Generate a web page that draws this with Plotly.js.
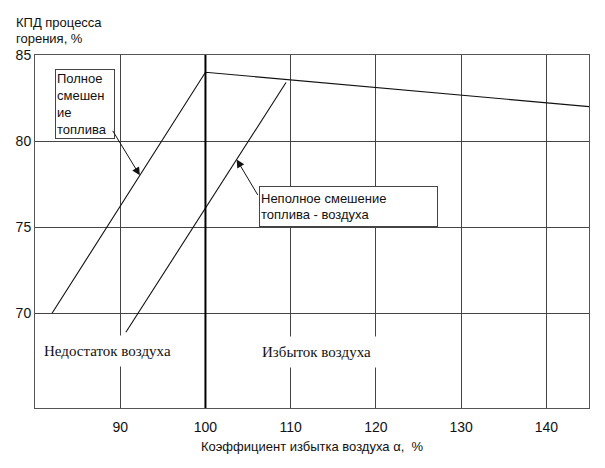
<!DOCTYPE html>
<html><head><meta charset="utf-8">
<script src="https://cdn.plot.ly/plotly-3.0.1.min.js"></script>
<style>html,body{margin:0;padding:0;background:#fff}#chart{width:605px;height:468px}</style>
</head><body><div id="chart"></div>
<script>
// ---- data ----
const fullMixX = [82, 100, 145];          // полное смешение топлива
const fullMixY = [70, 84.0, 82.0];
const partialMixX = [90.66, 109.45];      // неполное смешение топлива - воздуха
const partialMixY = [68.9, 83.4];
const boundaryX = [100];                  // граница недостаток / избыток воздуха
const xTickVals = [90, 100, 110, 120, 130, 140];
const xTickText = ['90', '100', '110', '120', '130', '140'];
const yTickVals = [70, 75, 80, 85];
const yTickText = ['70', '75', '80', '85'];
const yTitleLines = ['КПД процесса', 'горения, %'];
const xRange = [80, 145];
const yRange = [64.5, 85];

const SANS = '"Liberation Sans", Arial, sans-serif';
const SERIF = '"Liberation Serif", "Times New Roman", serif';

function interp(xs, ys, x) {
  for (let i = 0; i < xs.length - 1; i++) {
    if (x >= xs[i] && x <= xs[i + 1]) {
      const t = (x - xs[i]) / (xs[i + 1] - xs[i]);
      return ys[i] + t * (ys[i + 1] - ys[i]);
    }
  }
  return ys[ys.length - 1];
}

const arrow1X = 92.3, arrow2X = 103.66;

const traces = [
  {x: fullMixX, y: fullMixY, mode: 'lines', line: {color: '#111', width: 1.1}, hoverinfo: 'skip', showlegend: false},
  {x: partialMixX, y: partialMixY, mode: 'lines', line: {color: '#111', width: 1.1}, hoverinfo: 'skip', showlegend: false}
];

const layout = {
  width: 605, height: 468,
  margin: {l: 35, r: 16, t: 55, b: 60},
  paper_bgcolor: '#fff', plot_bgcolor: '#fff',
  font: {family: SANS, color: '#111', size: 14},
  showlegend: false,
  xaxis: {
    range: xRange, tickvals: xTickVals, ticktext: xTickText,
    showgrid: true, gridcolor: '#444', gridwidth: 1,
    showline: true, linecolor: '#555', linewidth: 1, mirror: true,
    zeroline: false, ticks: '', ticklabelstandoff: 6,
    tickfont: {family: SANS, size: 14, color: '#111'},
    title: {text: 'Коэффициент избытка воздуха α,  %', font: {family: SANS, size: 13, color: '#111'}, standoff: 8}
  },
  yaxis: {
    range: yRange, tickvals: yTickVals, ticktext: yTickText,
    showgrid: true, gridcolor: '#444', gridwidth: 1,
    showline: true, linecolor: '#555', linewidth: 1, mirror: true,
    zeroline: false, ticks: '', tickfont: {family: SANS, size: 14, color: '#111'}
  },
  shapes: [
    {type: 'line', xref: 'x', yref: 'paper', x0: boundaryX[0], x1: boundaryX[0], y0: 0, y1: 1,
     line: {color: '#000', width: 2}}
  ],
  annotations: [
    {xref: 'paper', yref: 'paper', x: -0.036, y: 1.093, xanchor: 'left', yanchor: 'middle', align: 'left',
     showarrow: false, text: yTitleLines[0], borderpad: 0, font: {family: SANS, size: 13, color: '#111'}},
    {xref: 'paper', yref: 'paper', x: -0.036, y: 1.048, xanchor: 'left', yanchor: 'middle', align: 'left',
     showarrow: false, text: yTitleLines[1], borderpad: 0, font: {family: SANS, size: 13, color: '#111'}},
    {xref: 'x', yref: 'y', x: 82.4, y: 84.2, xanchor: 'left', yanchor: 'top', align: 'left',
     showarrow: false, text: 'Полное<br>смешен<br>ие<br>топлива', width: 56, height: 66, borderpad: 1,
     bordercolor: '#444', borderwidth: 1, bgcolor: '#fff', font: {family: SANS, size: 13, color: '#111'}},
    {xref: 'x', yref: 'y', x: 106.23, y: 77.38, xanchor: 'left', yanchor: 'top', align: 'left',
     showarrow: false, text: 'Неполное смешение<br>топлива - воздуха', width: 175, height: 37, borderpad: 1,
     bordercolor: '#444', borderwidth: 1, bgcolor: '#fff', font: {family: SANS, size: 13, color: '#111'}},
    {xref: 'x', yref: 'y', x: arrow1X, y: interp(fullMixX, fullMixY, arrow1X), ax: -28, ay: -46,
     text: '', showarrow: true, arrowhead: 2, arrowsize: 1.6, arrowwidth: 1, arrowcolor: '#111'},
    {xref: 'x', yref: 'y', x: arrow2X, y: interp(partialMixX, partialMixY, arrow2X), ax: 22, ay: 37,
     text: '', showarrow: true, arrowhead: 2, arrowsize: 1.6, arrowwidth: 1, arrowcolor: '#111'},
    {xref: 'x', yref: 'y', x: 88.5, y: 67.8, showarrow: false, text: 'Недостаток воздуха',
     bgcolor: '#fff', borderpad: 7, font: {family: SERIF, size: 15, color: '#111'}},
    {xref: 'x', yref: 'y', x: 113.0, y: 67.75, showarrow: false, text: 'Избыток воздуха',
     bgcolor: '#fff', borderpad: 7, font: {family: SERIF, size: 15, color: '#111'}}
  ]
};

Plotly.newPlot('chart', traces, layout, {displayModeBar: false, staticPlot: true});
</script>
</body></html>
